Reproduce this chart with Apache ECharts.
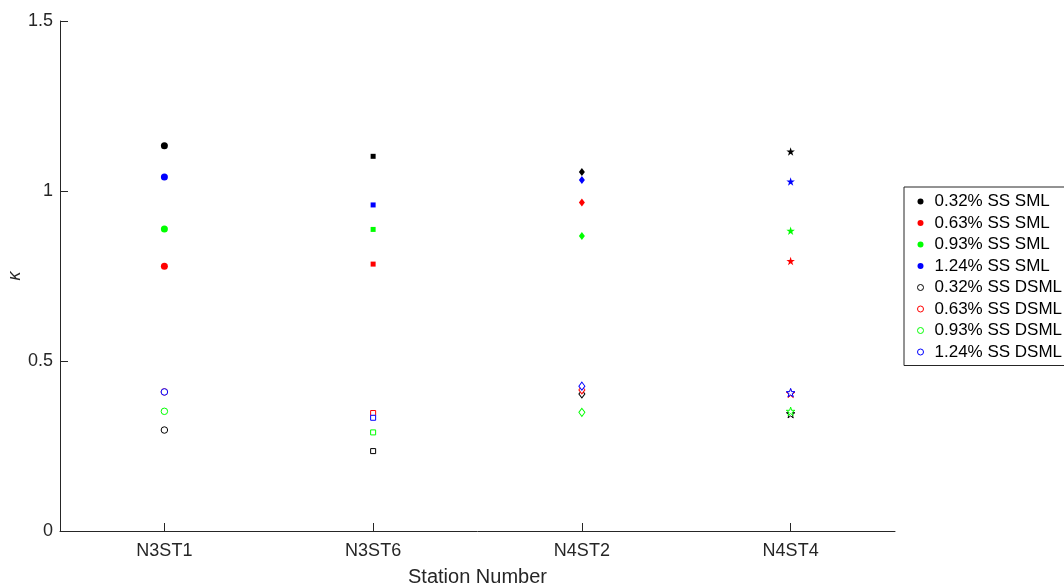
<!DOCTYPE html>
<html>
<head>
<meta charset="utf-8">
<title>Station kappa</title>
<script src="https://cdn.jsdelivr.net/npm/echarts@6/dist/echarts.min.js"></script>
<style>
  html, body { margin: 0; padding: 0; background: #fff; }
  #chart { width: 1064px; height: 586px; }
</style>
</head>
<body>
<div id="chart"></div>
<script>
// Stations along the x axis
const stations = ['N3ST1', 'N3ST6', 'N4ST2', 'N4ST4'];

// Kappa per station, SML cases
const sml032 = [1.133, 1.102, 1.056, 1.116];
const sml063 = [0.779, 0.785, 0.966, 0.794];
const sml093 = [0.888, 0.887, 0.868, 0.883];
const sml124 = [1.041, 0.959, 1.032, 1.028];

// Kappa per station, DSML cases
const dsml032 = [0.297, 0.235, 0.403, 0.345];
const dsml063 = [0.409, 0.347, 0.415, 0.405];
const dsml093 = [0.352, 0.290, 0.349, 0.352];
const dsml124 = [0.409, 0.333, 0.426, 0.407];

// Y axis ticks
const yTicks = [0, 0.5, 1, 1.5];

const FONT = '"Liberation Sans", Arial, Helvetica, sans-serif';
const INK = '#262626';

const star = 'path://M0,-100 L22.45,-30.9 L95.11,-30.9 L36.33,11.8 L58.78,80.9 L0,38.2 L-58.78,80.9 L-36.33,11.8 L-95.11,-30.9 L-22.45,-30.9 Z';

// one marker shape per station
const shapes = [
  { symbol: 'circle', filled: 7, open: 6.5 },
  { symbol: 'rect', filled: 5, open: 5 },
  { symbol: 'diamond', filled: [6, 8], open: [6, 8] },
  { symbol: star, filled: 8.5, open: 8.5 }
];

const groups = [
  { name: '0.32% SS SML', values: sml032, color: '#000000', open: false },
  { name: '0.63% SS SML', values: sml063, color: '#ff0000', open: false },
  { name: '0.93% SS SML', values: sml093, color: '#00ff00', open: false },
  { name: '1.24% SS SML', values: sml124, color: '#0000ff', open: false },
  { name: '0.32% SS DSML', values: dsml032, color: '#000000', open: true },
  { name: '0.63% SS DSML', values: dsml063, color: '#ff0000', open: true },
  { name: '0.93% SS DSML', values: dsml093, color: '#00ff00', open: true },
  { name: '1.24% SS DSML', values: dsml124, color: '#0000ff', open: true }
];

function styleFor(g) {
  return g.open
    ? { color: '#ffffff', borderColor: g.color, borderWidth: 1, opacity: 1 }
    : { color: g.color, borderColor: g.color, borderWidth: 0, opacity: 1 };
}

const series = groups.map(g => ({
  name: g.name,
  type: 'scatter',
  itemStyle: styleFor(g),
  emphasis: { disabled: true },
  data: g.values.map((v, i) => ({
    value: [stations[i], v],
    symbol: shapes[i].symbol,
    symbolSize: g.open ? shapes[i].open : shapes[i].filled
  }))
}));

const chart = echarts.init(document.getElementById('chart'), null, { renderer: 'canvas' });
chart.setOption({
  animation: false,
  backgroundColor: '#ffffff',
  textStyle: { fontFamily: FONT },
  grid: { left: 60, right: 169, top: 21, bottom: 55, containLabel: false, outerBoundsMode: 'none' },
  xAxis: {
    type: 'category',
    data: stations,
    boundaryGap: true,
    name: 'Station Number',
    nameLocation: 'middle',
    nameGap: 36,
    nameTextStyle: { fontFamily: FONT, fontSize: 20, color: INK },
    axisLine: { show: true, lineStyle: { color: INK, width: 1 } },
    axisTick: { show: true, inside: true, alignWithLabel: true, length: 8, lineStyle: { color: INK } },
    axisLabel: { fontFamily: FONT, fontSize: 18, color: INK, margin: 11 },
    splitLine: { show: false }
  },
  yAxis: {
    type: 'value',
    min: yTicks[0],
    max: yTicks[yTicks.length - 1],
    interval: yTicks[1] - yTicks[0],
    axisLine: { show: true, lineStyle: { color: INK, width: 1 } },
    axisTick: { show: true, inside: true, length: 8, lineStyle: { color: INK } },
    axisLabel: { fontFamily: FONT, fontSize: 18, color: INK, margin: 7 },
    splitLine: { show: false }
  },
  // y axis title, rotated beside the tick labels
  graphic: [{
    type: 'text',
    x: 15,
    y: 276,
    rotation: Math.PI / 2,
    silent: true,
    style: {
      text: 'κ',
      fontFamily: FONT,
      fontSize: 18,
      fontStyle: 'italic',
      fill: INK,
      align: 'center',
      verticalAlign: 'middle'
    }
  }],
  legend: {
    orient: 'vertical',
    left: 904,
    top: 187,
    padding: [6, 60, 5, 13],
    itemGap: 4.5,
    itemWidth: 6,
    itemHeight: 6,
    borderColor: INK,
    borderWidth: 1,
    backgroundColor: '#ffffff',
    selectedMode: false,
    textStyle: { fontFamily: FONT, fontSize: 17, color: '#000000', lineHeight: 17, padding: [0, 0, 0, 6] },
    data: groups.map(g => ({
      name: g.name,
      icon: 'circle',
      itemStyle: g.open
        ? { color: '#ffffff', borderColor: g.color, borderWidth: 1 }
        : { color: g.color, borderWidth: 0 }
    }))
  },
  series: series
});
</script>
</body>
</html>
